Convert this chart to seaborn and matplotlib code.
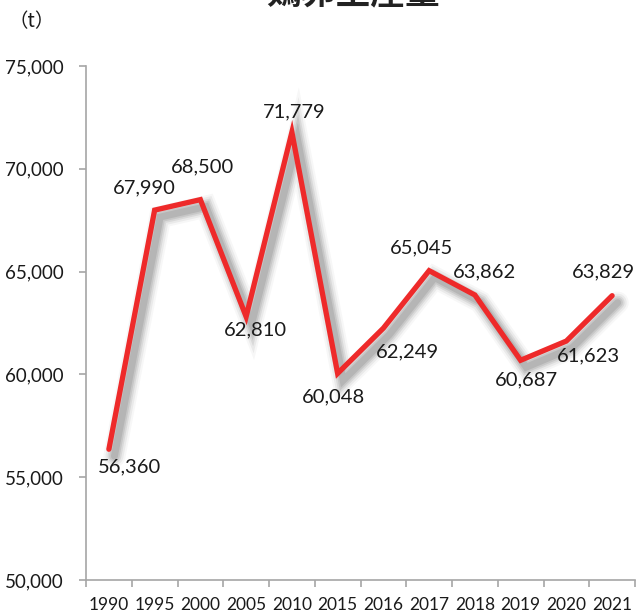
import matplotlib
matplotlib.use("Agg")
import matplotlib.pyplot as plt
import matplotlib.patheffects as pe
from matplotlib.ticker import FixedLocator, FuncFormatter
import seaborn as sns
import pandas as pd

years = ["1990", "1995", "2000", "2005", "2010", "2015", "2016", "2017", "2018", "2019", "2020", "2021"]
production = [56360, 67990, 68500, 62810, 71779, 60048, 62249, 65045, 63862, 60687, 61623, 63829]
label_texts = ["56,360", "67,990", "68,500", "62,810", "71,779", "60,048", "62,249", "65,045", "63,862", "60,687", "61,623", "63,829"]
label_offsets = [(21, -18), (-10, 22), (2, 33), (9, -13), (2, 20), (-4, -23),
                 (24, -24), (-8, 23), (10, 23), (6, -20), (22, -15), (-9, 24)]
title = "鶏卵生産量"
unit = "（t）"

sns.set_theme(style="white")
plt.rcParams["font.family"] = ["Lato", "Noto Sans CJK JP", "DejaVu Sans"]

df = pd.DataFrame({"year": years, "value": production})

fig = plt.figure(figsize=(6.42, 6.16), dpi=100)
ax = fig.add_axes([86 / 642, 36 / 616, 549 / 642, 514 / 616])

red = "#ee2a2a"
shadow = [
    pe.SimpleLineShadow(offset=(4, -5), shadow_color="#000000", alpha=0.03, linewidth=16),
    pe.SimpleLineShadow(offset=(4, -5), shadow_color="#000000", alpha=0.05, linewidth=13),
    pe.SimpleLineShadow(offset=(4, -5), shadow_color="#000000", alpha=0.07, linewidth=10),
    pe.SimpleLineShadow(offset=(4, -5), shadow_color="#000000", alpha=0.08, linewidth=7.5),
    pe.SimpleLineShadow(offset=(4, -5), shadow_color="#000000", alpha=0.09, linewidth=5),
    pe.Normal(),
]
sns.lineplot(data=df, x="year", y="value", sort=False, color=red, linewidth=3.8,
             ax=ax, path_effects=shadow, solid_joinstyle="miter", solid_capstyle="round")

for i, (txt, off) in enumerate(zip(label_texts, label_offsets)):
    ax.annotate(txt, (i, production[i]), xytext=off, textcoords="offset pixels",
                ha="center", va="center", fontsize=14.5, color="#1a1a1a")

ax.set_xlim(-0.5, len(years) - 0.5)
ax.set_ylim(50000, 75000)
ax.yaxis.set_major_locator(FixedLocator([50000, 55000, 60000, 65000, 70000, 75000]))
ax.yaxis.set_major_formatter(FuncFormatter(lambda v, p: f"{int(v):,}"))
ax.set_xticks(range(len(years)))
ax.set_xticklabels(years)
ax.xaxis.set_minor_locator(FixedLocator([i - 0.5 for i in range(len(years) + 1)]))

ax.set_xlabel("")
ax.set_ylabel("")
for s in ["top", "right"]:
    ax.spines[s].set_visible(False)
for s in ["left", "bottom"]:
    ax.spines[s].set_color("#a6a6a6")
    ax.spines[s].set_linewidth(1.2)

ax.tick_params(axis="y", which="major", left=True, length=5, width=1.2, color="#a6a6a6",
               labelsize=13.5, labelcolor="#1a1a1a", pad=11)
ax.tick_params(axis="x", which="major", bottom=False, length=0, labelsize=12.5,
               labelcolor="#1a1a1a", pad=12)
ax.tick_params(axis="x", which="minor", bottom=True, length=5, width=1.2, color="#a6a6a6")

fig.text(353 / 642, 1.0 + 6 / 616, title, ha="center", va="center", fontsize=25,
         fontweight="bold", color="#222222", family=["Noto Sans CJK JP", "DejaVu Sans"])
fig.text(32 / 642, 1 - 22 / 616, unit, ha="center", va="center", fontsize=14,
         color="#1a1a1a", family=["Noto Sans CJK JP", "DejaVu Sans"])

fig.savefig("out.png", dpi=100)
